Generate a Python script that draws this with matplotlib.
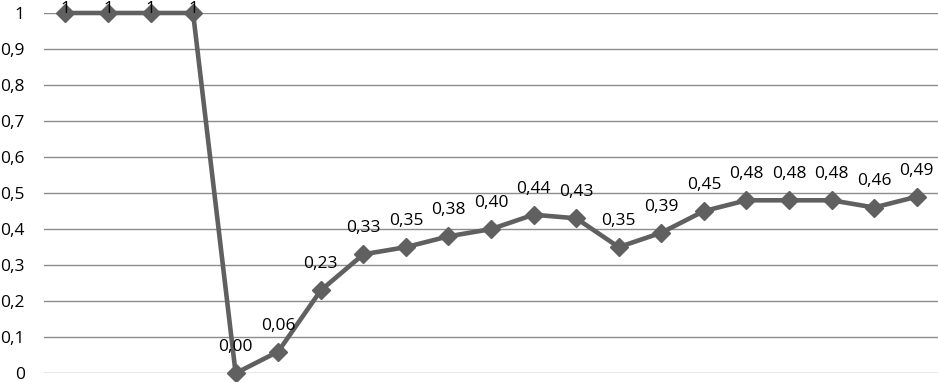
import matplotlib
matplotlib.use("Agg")
import matplotlib.pyplot as plt

# values
values = [1, 1, 1, 1, 0.00, 0.06, 0.23, 0.33, 0.35, 0.38, 0.40, 0.44, 0.43,
          0.35, 0.39, 0.45, 0.48, 0.48, 0.48, 0.46, 0.49]
yticks = [0, 0.1, 0.2, 0.3, 0.4, 0.5, 0.6, 0.7, 0.8, 0.9, 1]
ytick_labels = ["0", "0,1", "0,2", "0,3", "0,4", "0,5", "0,6", "0,7", "0,8", "0,9", "1"]

plt.rcParams['font.family'] = ['Open Sans', 'DejaVu Sans']

fig = plt.figure(figsize=(9.38, 3.82), dpi=100)
ax = fig.add_axes([0.047, 0.023, 0.953, 0.943])

x = list(range(len(values)))
ax.plot(x, values, color="#606060", lw=3.3, marker="D", ms=9,
        markerfacecolor="#606060", markeredgecolor="#606060", zorder=3, clip_on=False)

for xi, v in zip(x, values):
    if v == 1:
        ax.annotate("1", (xi, v), xytext=(0, 3), textcoords="offset points",
                    ha="center", va="center", fontsize=12.5, annotation_clip=False)
    else:
        txt = f"{v:.2f}".replace(".", ",")
        ax.annotate(txt, (xi, v), xytext=(0, 13), textcoords="offset points",
                    ha="center", va="bottom", fontsize=12.5, annotation_clip=False)

ax.set_xlim(-0.5, len(values) - 0.5)
ax.set_ylim(0, 1)
ax.set_yticks(yticks)
ax.set_yticklabels(ytick_labels, fontsize=12.5)
ax.set_xticks([])
ax.tick_params(axis="y", length=0, pad=14)
ax.grid(axis="y", color="#8c8c8c", lw=1)
ax.set_axisbelow(True)
for s in ax.spines.values():
    s.set_visible(False)

fig.savefig("out.png", dpi=100)
